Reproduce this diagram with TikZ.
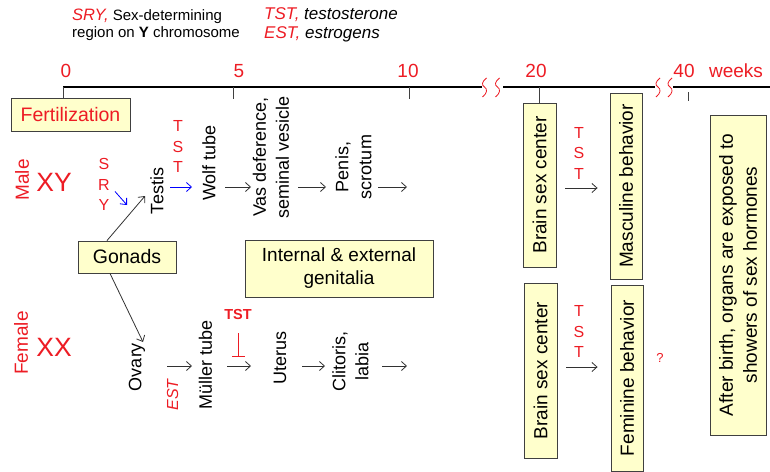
\documentclass[tikz,border=0pt]{standalone}
\usepackage{fontspec}
\setmainfont{Liberation Sans}
\usetikzlibrary{arrows.meta}

\definecolor{hred}{RGB}{237,28,36}
\definecolor{boxfill}{RGB}{255,255,204}
\definecolor{boxline}{RGB}{64,64,64}
\definecolor{arrgray}{RGB}{50,50,50}

\newcommand{\fsz}[2]{\fontsize{#1}{#2}\selectfont}

\tikzset{
  box/.style={draw=boxline, fill=boxfill, line width=0.9pt, inner sep=0pt, align=center, font=\fsz{19}{24}},
  vbox/.style={box, rotate=90},
  lbl/.style={inner sep=0pt, align=center, font=\fsz{18}{23}},
  vlbl/.style={lbl, rotate=90},
  letters/.style={inner sep=0pt, align=center, text=hred, font=\fsz{16}{20.5}},
  flow/.style={draw=arrgray, line width=0.8pt, -{Straight Barb[length=5pt,width=9pt]}},
  gap/.style 2 args={shorten <=#1pt, shorten >=#2pt},
  tick/.style={draw=boxline, line width=1pt},
  brk/.style={draw=hred, line width=0.8pt},
}

\begin{document}
\begin{tikzpicture}[x=1pt, y=-1pt]
\useasboundingbox (0,0) rectangle (770,471);

% legend
\node[anchor=west, inner sep=0pt, align=left, font=\fsz{15}{17}] (legsry) at (72,25)
  {{\fsz{16.5}{17}\itshape\color{hred}SRY,} Sex-determining\\region on \textbf{Y} chromosome};
\node[anchor=west, inner sep=0pt, align=left, font=\fsz{17}{19}\itshape] (leghorm) at (264,25)
  {{\color{hred}TST,} testosterone\\{\color{hred}EST,} estrogens};

% time axis
\coordinate (t0) at (63,87);
\coordinate (t5) at (233,87);
\coordinate (t10) at (409,87);
\coordinate (t20) at (539,87);
\coordinate (t40) at (688,87);
\draw[line width=1.3pt] (t0) -- (482,87) (503,87) -- (655,87) (673,87) -- (770,87);
\foreach \bx in {484.5,497.5,658,670}
  \draw[brk] (\bx+2,78) .. controls (\bx-3,82) and (\bx-3,85) .. (\bx,87)
    .. controls (\bx+3,89) and (\bx+3,93) .. (\bx-2,97);
\foreach \lx/\lt in {66/0, 239/5, 408/10, 536/20, 684/40, 736/weeks}
  \node[inner sep=0pt, text=hred, font=\fsz{19}{20}] (lab\lt) at (\lx,71) {\lt};

% boxes
\node[box, minimum width=119pt, minimum height=33pt, text=hred, font=\fsz{19.5}{22}] (fert) at (70.5,114.5) {Fertilization};
\node[box, minimum width=98pt, minimum height=32pt, font=\fsz{19.5}{24}] (gonads) at (127,257) {Gonads};
\node[box, minimum width=188pt, minimum height=57pt, font=\fsz{19}{23}] (genit) at (339,268.5) {Internal \& external\\genitalia};
\node[vbox, minimum width=164pt, minimum height=33pt] (brainm) at (539.5,185) {Brain sex center};
\node[vbox, minimum width=186pt, minimum height=32pt] (masc) at (626,186) {Masculine behavior};
\node[vbox, minimum width=175pt, minimum height=33pt] (brainf) at (540.5,370.5) {Brain sex center};
\node[vbox, minimum width=186pt, minimum height=32pt] (fem) at (627,378) {Feminine behavior};
\node[vbox, minimum width=320pt, minimum height=56pt] (after) at (738,275) {After birth, organs are exposed to\\showers of sex hormones};

\draw[tick] (t0) -- (t0 |- fert.north);
\draw[tick] (t5) -- ++(0,12);
\draw[tick] (t10) -- ++(0,12);
\draw[tick] (t20) -- (t20 |- brainm.east);
\draw[tick] ([yshift=-5pt]t40) -- ++(0,9);

% sexes
\node[vlbl, text=hred, font=\fsz{19}{22}] (male) at (22,180) {Male};
\node[lbl, text=hred, font=\fsz{26.5}{28}] (xy) at (54,182) {XY};
\node[vlbl, text=hred, font=\fsz{19}{22}] (female) at (21,343) {Female};
\node[lbl, text=hred, font=\fsz{26.5}{28}] (xx) at (54,347) {XX};

% male line
\node[letters] (sry) at (104,184.5) {S\\R\\Y};
\node[vlbl] (testis) at (157,191) {Testis};
\node[letters] (tstm) at (178,146.5) {T\\S\\T};
\node[vlbl] (wolf) at (209,163) {Wolf tube};
\node[vlbl] (vas) at (271,157) {Vas deference,\\seminal vesicle};
\node[vlbl] (penis) at (353.5,167) {Penis,\\scrotum};
\coordinate (mrow) at (0,187);
\coordinate (mend) at (407,187);
\coordinate (sryend) at (127,205);

\draw[flow, draw=blue] ([shift={(11,7)}]sry.center) -- (sryend);
\draw[flow, draw=blue, gap={13}{17}] (testis |- mrow) -- (wolf |- mrow);
\draw[flow, gap={16}{20}] (wolf |- mrow) -- (vas |- mrow);
\draw[flow, gap={27}{27.5}] (vas |- mrow) -- (penis |- mrow);
\draw[flow, gap={24.5}{0}] (penis |- mrow) -- (mend);

% female line
\node[vlbl] (ovary) at (137,367) {Ovary};
\node[vlbl, text=hred, font=\fsz{16}{19}\itshape] (est) at (172.5,395) {EST};
\node[vlbl] (mueller) at (205.5,365) {Müller tube};
\node[inner sep=0pt, text=hred, font=\fsz{14.5}{16}\bfseries] (tstf) at (238,315) {TST};
\node[vlbl] (uterus) at (280,358) {Uterus};
\node[vlbl] (clit) at (350.5,361) {Clitoris,\\labia};
\coordinate (frow) at (0,366);
\coordinate (fend) at (407,366);
\coordinate (tstbar) at (238,357);

\draw[flow, gap={30}{13.5}] (ovary |- frow) -- (mueller |- frow);
\draw[flow, gap={21.5}{29}] (mueller |- frow) -- (uterus |- frow);
\draw[flow, gap={22}{25.5}] (uterus |- frow) -- (clit |- frow);
\draw[flow, gap={31.5}{0}] (clit |- frow) -- (fend);
\draw[hred, line width=0.9pt, -{Bar[width=13pt]}, shorten <=13pt] (tstf) -- (tstbar);

% gonads
\draw[flow] ([xshift=-20pt]gonads.north) -- ([shift={(-12,5)}]testis.center);
\draw[flow] ([xshift=-17pt]gonads.south) -- ([shift={(6,-25)}]ovary.center);

% brain
\node[letters] (tstbm) at (579,153) {T\\S\\T};
\node[letters] (tstbf) at (579,331.5) {T\\S\\T};
\coordinate (brow1) at (0,188);
\coordinate (brow2) at (0,367);
\draw[flow, gap={9}{12}] (brainm.south |- brow1) -- (masc.north |- brow1);
\draw[flow, gap={9}{13}] (brainf.south |- brow2) -- (fem.north |- brow2);
\node[inner sep=0pt, text=hred, font=\fsz{13}{14}] (qmark) at (660,358) {?};
\end{tikzpicture}
\end{document}
